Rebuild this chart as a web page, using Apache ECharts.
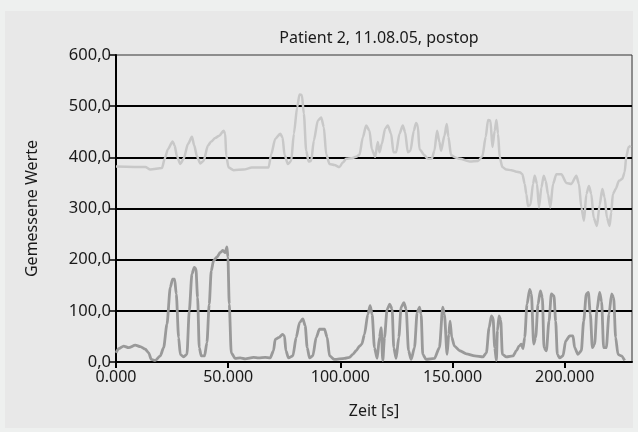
<!DOCTYPE html>
<html>
<head>
<meta charset="utf-8">
<script src="https://cdn.jsdelivr.net/npm/echarts@6/dist/echarts.min.js"></script>
<style>
  html, body { margin: 0; padding: 0; background: #eef0ef; }
  #chart { width: 638px; height: 432px; }
</style>
</head>
<body>
<div id="chart"></div>
<script>
  const zeitHell = [
    0, 13070, 15290, 20490, 21680, 23160, 25240, 26130, 27170, 28650, 30130, 32070, 33850, 34890,
    36080, 37560, 39040, 40980, 42460, 44240, 46020, 47950, 48680, 49130, 50180, 52420, 56870, 60570,
    68000, 69190, 70970, 73200, 74240, 75120, 76610, 78090, 79280, 80760, 81810, 82840, 83740, 84770,
    85830, 87000, 88190, 89970, 91460, 92640, 93690, 95170, 97390, 99620, 101100, 102590, 104810,
    107040, 108530, 110010, 111500, 112990, 114020, 115510, 116690, 117440, 118470, 119950, 121150,
    122630, 123680, 124860, 126350, 127830, 128870, 130060, 131250, 132730, 133770, 134510, 135270,
    137490, 138960, 140750, 141930, 143120, 144160, 144900, 146390, 147430, 148170, 149340, 151570,
    153220, 157670, 161380, 163310, 164800, 165830, 166900, 167780, 168810, 169560, 170290, 171030,
    172220, 174010, 176240, 178470, 179940, 181140, 182170, 182920, 183650, 184710, 185880, 186630,
    187650, 188540, 189610, 190640, 191520, 192560, 193600, 194790, 196290, 198520, 200740, 202970,
    205190, 206360, 207410, 208600, 209650, 210810, 211870, 212900, 214380, 215570, 216770, 217790,
    218820, 220000, 220740, 221470, 222710, 224200, 225680, 226720, 227460, 228500, 229400
  ];
  const werteHell = [
    382, 381, 376, 379, 397, 416, 431, 423, 402, 387, 397, 426, 440, 423,
    402, 388, 393, 423, 431, 438, 442, 452, 446, 403, 380, 375, 376, 380,
    380, 406, 436, 446, 439, 405, 387, 393, 446, 498, 523, 522, 485, 413,
    392, 393, 433, 472, 478, 459, 406, 387, 385, 381, 390, 397, 398,
    401, 405, 439, 462, 452, 416, 401, 430, 410, 426, 456, 462,
    446, 410, 410, 446, 462, 449, 410, 413, 452, 467, 462, 416,
    404, 397, 397, 413, 452, 430, 413, 442, 465, 440, 404, 399,
    397, 392, 393, 402, 440, 473, 472, 420, 452, 473, 446, 400,
    381, 376, 375, 372, 371, 367, 348, 328, 305, 307, 348, 364,
    348, 302, 341, 364, 354, 328, 302, 348, 367, 367, 350, 348,
    364, 348, 302, 276, 328, 344, 328, 282, 266, 307, 338, 322,
    282, 266, 292, 328, 338, 354, 358, 371, 402, 420, 423
  ];

  const zeitDunkel = [
    0, 1187, 3415, 5642, 8610, 10837, 13064, 14548, 15735, 17517, 19744, 21228, 22716, 24200,
    25240, 26130, 26870, 27910, 28650, 30130, 31620, 32660, 33850, 34890, 35630, 36370, 37110, 38000,
    39480, 40530, 41560, 42450, 43490, 44980, 46460, 47660, 48680, 49440, 49880, 50480, 51370, 53140,
    55370, 57590, 61310, 63540, 66510, 68730, 70210, 70950, 72730, 74210, 75100, 75720, 76910,
    78840, 80320, 81810, 83290, 84330, 85220, 86260, 87740, 89230, 90710, 92940, 94130, 95170,
    97390, 101850, 104070, 105560, 107040, 108530, 109570, 110760, 112240, 113280, 114170, 115210,
    116400, 117440, 118180, 118920, 119670, 120850, 122040, 123080, 123820, 124860, 126050, 127080,
    128310, 129340, 130380, 131570, 133050, 134240, 135270, 136010, 136740, 138220, 141930, 144160,
    145640, 146390, 147580, 148320, 148910, 149660, 150850,
    153220, 156190, 159900, 163610, 165100, 166290, 167330, 168060, 168810, 169560, 170000, 170730,
    171480, 172220, 174010, 176970, 178470, 179640, 180710, 181410, 182170, 183200, 184400, 185150,
    186170, 187070, 188100, 189160, 190050, 190780, 191830, 193000, 194060, 195220, 195970, 196720,
    197760, 199230, 200430, 202210, 203700, 204440, 205910, 207410, 208450, 209650, 210540, 211430,
    212320, 213350, 214380, 215570, 216460, 217350, 218550, 219740, 220930, 221820, 222710, 223740,
    225230, 226720
  ];
  const werteDunkel = [
    18, 26, 31, 28, 33, 30, 25, 18, 5, 3, 12, 28, 74, 146,
    162, 162, 133, 48, 15, 10, 15, 100, 172, 185, 182, 126, 28, 12,
    12, 38, 113, 178, 198, 205, 214, 218, 214, 225, 205, 113, 18, 7,
    8, 6, 9, 8, 9, 8, 22, 44, 48, 54, 51, 22, 8,
    12, 48, 77, 84, 71, 28, 8, 12, 48, 64, 64, 48, 12,
    5, 7, 9, 15, 22, 31, 35, 54, 93, 110, 93, 28,
    7, 48, 67, 3, 48, 103, 113, 103, 28, 7, 48, 107,
    116, 103, 22, 5, 28, 97, 107, 93, 15, 5, 7, 28,
    107, 93, 15, 54, 80, 48, 31,
    22, 16, 12, 10, 18, 67, 90, 86, 28, 3, 61, 90,
    82, 15, 10, 12, 22, 31, 35, 26, 48, 113, 142, 133,
    35, 48, 113, 139, 126, 28, 22, 80, 133, 129, 80, 15,
    8, 12, 41, 51, 51, 28, 15, 22, 80, 133, 136, 94,
    28, 35, 102, 136, 118, 28, 28, 94, 133, 126, 48, 15,
    12, 3
  ];

  const xTicks = [0, 50000, 100000, 150000, 200000];

  const textFarbe = '#1a1a1a';
  const schrift = 'Noto Sans';

  const chart = echarts.init(document.getElementById('chart'));

  const option = {
    animation: false,
    backgroundColor: '#eef0ef',
    graphic: [
      {
        type: 'rect',
        z: -10,
        shape: { x: 5, y: 11, width: 628, height: 417 },
        style: { fill: '#e8e8e8' },
      },
    ],
    title: {
      text: 'Patient 2, 11.08.05, postop',
      left: 374,
      textAlign: 'center',
      top: 25,
      textStyle: { fontFamily: schrift, fontSize: 16, fontWeight: 'normal', color: textFarbe },
    },
    grid: {
      left: 116,
      right: 6,
      top: 55,
      bottom: 70,
      show: true,
      borderColor: '#333',
      borderWidth: 1,
      backgroundColor: 'transparent',
    },
    xAxis: {
      type: 'value',
      min: 0,
      max: 230000,
      interval: 50000,
      name: 'Zeit [s]',
      nameLocation: 'middle',
      nameGap: 41,
      nameTextStyle: { fontFamily: schrift, fontSize: 16, color: textFarbe },
      axisLine: { show: true, lineStyle: { color: '#000', width: 2 } },
      axisTick: { show: true, length: 6, lineStyle: { color: '#000', width: 2 }, customValues: xTicks },
      axisLabel: {
        customValues: xTicks,
        fontFamily: schrift,
        fontSize: 16,
        color: textFarbe,
        margin: 7,
        formatter: (v) => Math.floor(v / 1000) + '.' + String(v % 1000).padStart(3, '0'),
      },
      splitLine: { show: false },
    },
    yAxis: {
      type: 'value',
      min: 0,
      max: 600,
      interval: 100,
      name: 'Gemessene Werte',
      nameLocation: 'middle',
      nameGap: 76,
      nameTextStyle: { fontFamily: schrift, fontSize: 16, color: textFarbe },
      axisLine: { show: true, lineStyle: { color: '#000', width: 2 } },
      axisTick: { show: true, length: 7, lineStyle: { color: '#000', width: 1.5 } },
      axisLabel: {
        fontFamily: schrift,
        fontSize: 16.5,
        color: textFarbe,
        margin: 5,
        formatter: (v) => v.toFixed(1).replace('.', ','),
      },
      splitLine: { show: true, showMaxLine: false, lineStyle: { color: '#000', width: 2 } },
    },
    series: [
      {
        name: 'hell',
        type: 'line',
        data: zeitHell.map((t, i) => [t, werteHell[i]]),
        showSymbol: false,
        smooth: 0.25,
        smoothMonotone: 'x',
        lineStyle: { color: '#c8c8c8', width: 2.5 },
        z: 3,
      },
      {
        name: 'dunkel',
        type: 'line',
        data: zeitDunkel.map((t, i) => [t, werteDunkel[i]]),
        showSymbol: false,
        smooth: 0.25,
        smoothMonotone: 'x',
        lineStyle: { color: '#999999', width: 2.8 },
        z: 4,
      },
    ],
  };

  chart.setOption(option);
</script>
</body>
</html>
